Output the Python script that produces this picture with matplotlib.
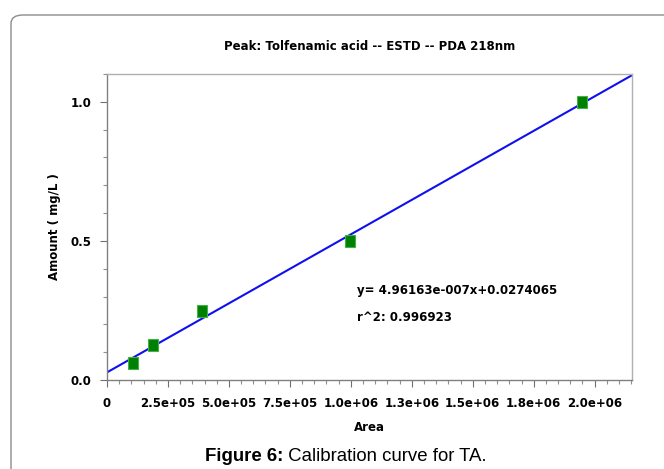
import numpy as np
import matplotlib.pyplot as plt
from matplotlib.patches import FancyBboxPatch
from matplotlib.ticker import FixedLocator, FixedFormatter, MultipleLocator

# calibration points
area = [1.07e5, 1.89e5, 3.88e5, 0.997e6, 1.95e6]
amount = [0.062, 0.126, 0.249, 0.5, 1.0]

# regression reported on the chart
slope = 4.96163e-7
intercept = 0.0274065

xtick_vals = [0, 2.5e5, 5.0e5, 7.5e5, 1.0e6, 1.25e6, 1.5e6, 1.75e6, 2.0e6]
xtick_labels = ["0", "2.5e+05", "5.0e+05", "7.5e+05", "1.0e+06",
                "1.3e+06", "1.5e+06", "1.8e+06", "2.0e+06"]
ytick_vals = [0.0, 0.5, 1.0]
ytick_labels = ["0.0", "0.5", "1.0"]

xmax = 2.153e6
ymax = 1.10

fig = plt.figure(figsize=(6.64, 4.69), dpi=100)
ax = fig.add_axes([107 / 664, 1 - 380 / 469, 525 / 664, 306 / 469])

# outer rounded frame
frame = FancyBboxPatch((11 / 664, -0.2), 1.3, 1.2 - 15 / 469,
                       boxstyle="round,pad=0,rounding_size=0.018",
                       transform=fig.transFigure, fill=False,
                       edgecolor="#8c8c8c", linewidth=1.0)
fig.patches.append(frame)

xs = np.array([0, xmax])
ax.plot(xs, slope * xs + intercept, color="#1010ee", linewidth=1.5, zorder=2)

rect = [(-0.42, -0.5), (0.42, -0.5), (0.42, 0.5), (-0.42, 0.5), (-0.42, -0.5)]
ax.plot(area, amount, linestyle="none", marker=rect, markersize=8.8,
        markerfacecolor="#008000", markeredgecolor="#45b045",
        markeredgewidth=0.8, zorder=3)

ax.set_xlim(0, xmax)
ax.set_ylim(0, ymax)

ax.xaxis.set_major_locator(FixedLocator(xtick_vals))
ax.xaxis.set_major_formatter(FixedFormatter(xtick_labels))
ax.xaxis.set_minor_locator(MultipleLocator(5e4))
ax.yaxis.set_major_locator(FixedLocator(ytick_vals))
ax.yaxis.set_major_formatter(FixedFormatter(ytick_labels))
ax.yaxis.set_minor_locator(MultipleLocator(0.1))

for lab in ax.get_xticklabels() + ax.get_yticklabels():
    lab.set_fontweight("bold")
    lab.set_fontsize(8.5)

ax.tick_params(axis="both", which="major", direction="out", length=5,
               width=0.8, color="#707070")
ax.tick_params(axis="both", which="minor", direction="out", length=3,
               width=0.8, color="#909090")
ax.tick_params(axis="x", which="major", pad=7)
ax.tick_params(axis="y", which="major", pad=6)

for side in ["top", "right"]:
    ax.spines[side].set_color("#b0b0b0")
for side in ["left", "bottom"]:
    ax.spines[side].set_color("#808080")
for sp in ax.spines.values():
    sp.set_linewidth(1.0)

ax.set_title("Peak: Tolfenamic acid -- ESTD -- PDA 218nm",
             fontsize=8.5, fontweight="bold", pad=17)
ax.set_xlabel("Area", fontsize=8.5, fontweight="bold", labelpad=8)
ax.set_ylabel("Amount ( mg/L )", fontsize=8.5, fontweight="bold", labelpad=7)

ax.text(0.476, 0.291, "y= 4.96163e-007x+0.0274065", transform=ax.transAxes,
        fontsize=8.5, fontweight="bold", va="center", ha="left")
ax.text(0.476, 0.203, "r^2: 0.996923", transform=ax.transAxes,
        fontsize=8.5, fontweight="bold", va="center", ha="left")

cap1 = fig.text(205 / 664, 1 - 461 / 469, "Figure 6:", family="Liberation Sans",
                fontsize=13.4, fontweight="bold", va="baseline", ha="left")
ax.annotate(" Calibration curve for TA.", xy=(1, 0), xycoords=cap1,
            family="Liberation Sans", fontsize=13.4, va="bottom", ha="left",
            annotation_clip=False)

fig.savefig("out.png", dpi=100)
